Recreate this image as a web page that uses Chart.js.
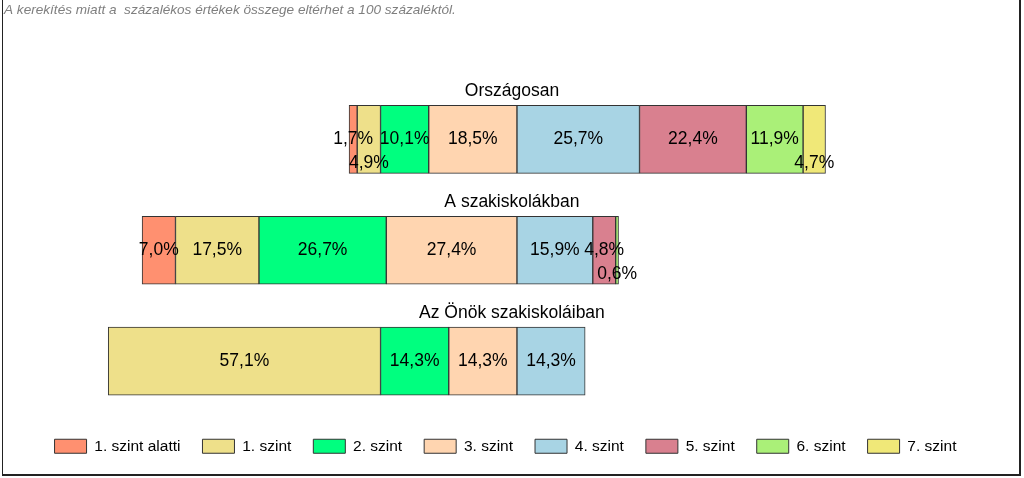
<!DOCTYPE html>
<html>
<head>
<meta charset="utf-8">
<script src="https://cdn.jsdelivr.net/npm/chart.js@4/dist/chart.umd.min.js"></script>
<style>
  html, body { margin: 0; padding: 0; background: #fff; }
  #wrap { width: 1024px; height: 478px; position: relative; }
</style>
</head>
<body>
<div id="wrap"><canvas id="chart" width="1024" height="478"></canvas></div>
<script>
/* Diverging stacked bars: levels 0-3 left of zero, levels 4-7 right of zero */

const NOTE = 'A kerekítés miatt a  százalékos értékek összege eltérhet a 100 százaléktól.';

const categories = ['Országosan', 'A szakiskolákban', 'Az Önök szakiskoláiban'];

const levelNames = [
  '1. szint alatti', '1. szint', '2. szint', '3. szint',
  '4. szint', '5. szint', '6. szint', '7. szint',
];

// percentages per level, one value per category (null = no such group)
const belowLevel1 = [1.7, 7.0, null];
const level1 = [4.9, 17.5, 57.1];
const level2 = [10.1, 26.7, 14.3];
const level3 = [18.5, 27.4, 14.3];
const level4 = [25.7, 15.9, 14.3];
const level5 = [22.4, 4.8, null];
const level6 = [11.9, 0.6, null];
const level7 = [4.7, null, null];

const levelValues = [belowLevel1, level1, level2, level3, level4, level5, level6, level7];

const LEVEL_COLORS = [
  '#FF9070', // 1. szint alatti
  '#EEE08A', // 1. szint
  '#00FF7F', // 2. szint
  '#FFD5B0', // 3. szint
  '#A8D4E4', // 4. szint
  '#D9808F', // 5. szint
  '#AAF078', // 6. szint
  '#F0E878', // 7. szint
];

// labels that sit below the bar middle (level index -> category indexes)
const LOWERED = { 1: [0], 6: [1], 7: [0] };

const FONT = "'Liberation Sans', Arial, sans-serif";
const LEFT_LEVELS = 4; // levels 0..3 go to the left of zero

function floatingData(k) {
  return categories.map((_, c) => {
    const v = levelValues[k][c];
    if (!v) return null;
    let start = 0;
    if (k < LEFT_LEVELS) {
      for (let j = k; j < LEFT_LEVELS; j++) start -= (levelValues[j][c] || 0);
    } else {
      for (let j = LEFT_LEVELS; j < k; j++) start += (levelValues[j][c] || 0);
    }
    return [start, start + v];
  });
}

const datasets = levelNames.map((name, k) => ({
  label: name,
  data: floatingData(k),
  backgroundColor: LEVEL_COLORS[k],
  borderColor: '#333333',
  borderWidth: 1,
  borderSkipped: false,
  barThickness: 68,
  grouped: false,
}));

const fmt = v => v.toFixed(1).replace('.', ',') + '%';

const decorPlugin = {
  id: 'decor',
  afterDatasetsDraw(chart) {
    const ctx = chart.ctx;
    const xs = chart.scales.x, ys = chart.scales.y;
    ctx.save();
    // value labels
    ctx.fillStyle = '#000';
    ctx.font = '17.5px ' + FONT;
    ctx.textAlign = 'center';
    ctx.textBaseline = 'middle';
    chart.data.datasets.forEach((ds, k) => {
      const meta = chart.getDatasetMeta(k);
      meta.data.forEach((bar, c) => {
        const v = levelValues[k][c];
        if (!v) return;
        const low = (LOWERED[k] || []).includes(c);
        ctx.fillText(fmt(v), bar.x - (bar.x - bar.base) / 2, bar.y + (low ? 24 : 0));
      });
    });
    // category titles above each bar
    ctx.font = '17.5px ' + FONT;
    const cx = xs.getPixelForValue(0) - 5;
    categories.forEach((cat, c) => {
      ctx.fillText(cat, cx, ys.getPixelForValue(c) - 48);
    });
    ctx.restore();
  },
  afterDraw(chart) {
    const ctx = chart.ctx;
    ctx.save();
    // note line
    ctx.fillStyle = '#7f7f7f';
    ctx.font = 'italic 13.6px ' + FONT;
    ctx.textAlign = 'left';
    ctx.textBaseline = 'top';
    ctx.fillText(NOTE, 4, 3);
    // frame
    ctx.strokeStyle = '#222';
    ctx.lineWidth = 1;
    ctx.beginPath();
    ctx.moveTo(2.5, 0);
    ctx.lineTo(2.5, 475);
    ctx.stroke();
    ctx.lineWidth = 2;
    ctx.beginPath();
    ctx.moveTo(2, 475);
    ctx.lineTo(1020, 475);
    ctx.lineTo(1020, 0);
    ctx.stroke();
    ctx.restore();
  },
};

new Chart(document.getElementById('chart'), {
  type: 'bar',
  data: { labels: categories, datasets },
  options: {
    indexAxis: 'y',
    responsive: false,
    animation: false,
    layout: { padding: { top: 84, left: 10, right: 23, bottom: 14 } },
    scales: {
      x: { display: false, min: -106.3, max: 101.5 },
      y: { display: false, offset: true },
    },
    plugins: {
      tooltip: { enabled: false },
      legend: {
        position: 'bottom',
        labels: {
          color: '#000',
          font: { family: FONT, size: 15.5 },
          boxWidth: 32,
          boxHeight: 14,
          padding: 22,
        },
      },
    },
  },
  plugins: [decorPlugin],
});
</script>
</body>
</html>
